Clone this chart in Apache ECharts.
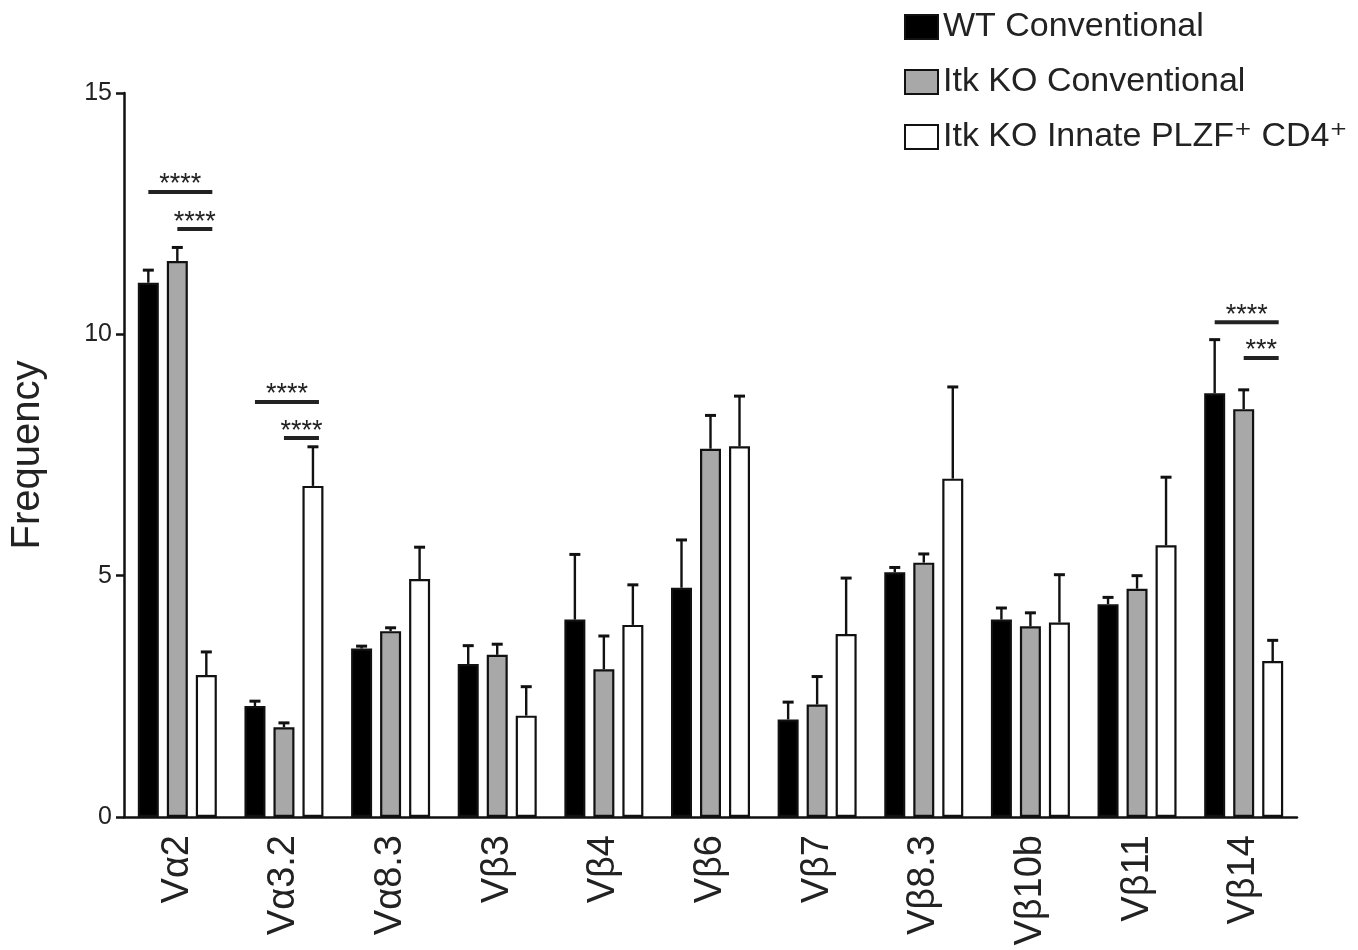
<!DOCTYPE html>
<html>
<head>
<meta charset="utf-8">
<style>
  html, body { margin: 0; padding: 0; background: #fff; }
  #chart { width: 1358px; height: 950px; }
</style>
<script src="https://cdn.jsdelivr.net/npm/echarts@6/dist/echarts.min.js"></script>
</head>
<body>
<div id="chart"></div>
<script>
// ---- data ----
var categories = ['V\u03b12', 'V\u03b13.2', 'V\u03b18.3', 'V\u03b23', 'V\u03b24', 'V\u03b26', 'V\u03b27', 'V\u03b28.3', 'V\u03b210b', 'V\u03b211', 'V\u03b214'];
var seriesNames = ['WT Conventional', 'Itk KO Conventional', 'Itk KO Innate PLZF\u207a CD4\u207a'];
var wtMean   = [11.07, 2.30, 3.49, 3.17, 4.09, 4.75, 2.02, 5.07, 4.09, 4.41, 8.78];
var wtErr    = [0.26, 0.10, 0.05, 0.38, 1.35, 0.99, 0.36, 0.10, 0.24, 0.14, 1.11];
var koMean   = [11.52, 1.86, 3.85, 3.36, 3.06, 7.63, 2.33, 5.27, 3.95, 4.73, 8.45];
var koErr    = [0.28, 0.09, 0.07, 0.22, 0.69, 0.69, 0.58, 0.18, 0.28, 0.27, 0.40];
var innMean  = [2.94, 6.86, 4.93, 2.10, 3.98, 7.68, 3.79, 7.01, 4.03, 5.63, 3.23];
var innErr   = [0.48, 0.81, 0.66, 0.60, 0.83, 1.04, 1.16, 1.90, 0.99, 1.41, 0.43];
var yTicks = { min: 0, max: 15, interval: 5 };
// significance brackets: [category index, first bar index, y value, label]
var sigMarks = [
  [0, 0, 12.95, '****'],
  [0, 1, 12.18, '****'],
  [1, 0, 8.60, '****'],
  [1, 1, 7.85, '****'],
  [10, 0, 10.25, '****'],
  [10, 1, 9.51, '***']
];

// ---- styles ----
var FONT = '"Liberation Sans", Arial, "DejaVu Sans", sans-serif';
var BAR_W = 21;
var BAR_GAP = 8;
var STEP = BAR_W + BAR_GAP;
var fills = ['#000000', '#a8a8a8', '#ffffff'];
var means = [wtMean, koMean, innMean];
var errs = [wtErr, koErr, innErr];

var chart = echarts.init(document.getElementById('chart'), null, { renderer: 'canvas' });

var series = [];
for (var k = 0; k < 3; k++) {
  series.push({
    name: seriesNames[k],
    type: 'bar',
    data: means[k],
    barWidth: BAR_W,
    barGap: (BAR_GAP / BAR_W * 100) + '%',
    itemStyle: { color: fills[k], borderColor: '#111', borderWidth: 2.2 },
    emphasis: { disabled: true },
    z: 2
  });
}

// error bars
for (var k2 = 0; k2 < 3; k2++) {
  (function (kk) {
    var d = [];
    for (var i = 0; i < categories.length; i++) d.push([i, means[kk][i], errs[kk][i]]);
    series.push({
      type: 'custom',
      data: d,
      z: 3,
      silent: true,
      renderItem: function (params, api) {
        var base = api.coord([api.value(0), api.value(1)]);
        var top = api.coord([api.value(0), api.value(1) + api.value(2)]);
        var x = base[0] + (kk - 1) * STEP;
        return {
          type: 'group',
          children: [
            { type: 'line', shape: { x1: x, y1: base[1], x2: x, y2: top[1] }, style: { stroke: '#111', lineWidth: 2.4 } },
            { type: 'line', shape: { x1: x - 5.5, y1: top[1], x2: x + 5.5, y2: top[1] }, style: { stroke: '#111', lineWidth: 3 } }
          ]
        };
      }
    });
  })(k2);
}

// significance marks
series.push({
  type: 'custom',
  data: sigMarks,
  z: 4,
  silent: true,
  renderItem: function (params, api) {
    var p = api.coord([api.value(0), api.value(2)]);
    var from = api.value(1);
    var x1 = p[0] + (from - 1) * STEP;
    var x2 = p[0] + STEP + 6;
    var label = sigMarks[params.dataIndex][3];
    return {
      type: 'group',
      children: [
        { type: 'line', shape: { x1: x1, y1: p[1], x2: x2, y2: p[1] }, style: { stroke: '#222', lineWidth: 4 } },
        { type: 'text', style: { text: label, x: (x1 + x2) / 2, y: p[1] - 7, align: 'center', verticalAlign: 'middle', font: '27px ' + FONT, fill: '#222' } }
      ]
    };
  }
});

chart.setOption({
  animation: false,
  backgroundColor: '#fff',
  grid: { left: 123, right: 61, top: 93, bottom: 133, containLabel: false },
  legend: {
    data: seriesNames,
    orient: 'vertical',
    left: 899,
    top: 4,
    itemWidth: 33,
    itemHeight: 24,
    itemGap: 19,
    selectedMode: false,
    icon: 'rect',
    textStyle: { fontFamily: FONT, fontSize: 34, color: '#222', padding: [0, 0, 0, 0], lineHeight: 36 }
  },
  xAxis: {
    type: 'category',
    data: categories,
    axisLine: { lineStyle: { color: '#111', width: 2.5 } },
    axisTick: { alignWithLabel: true, length: 8, lineStyle: { color: '#111', width: 2.5 } },
    axisLabel: { rotate: 90, margin: 18, fontFamily: FONT, fontSize: 38, color: '#222' },
    splitLine: { show: false }
  },
  yAxis: {
    type: 'value',
    min: yTicks.min,
    max: yTicks.max,
    interval: yTicks.interval,
    name: 'Frequency',
    nameLocation: 'middle',
    nameGap: 76,
    nameTextStyle: { fontFamily: FONT, fontSize: 40, color: '#222' },
    axisLine: { show: true, lineStyle: { color: '#111', width: 2.5 } },
    axisTick: { show: true, length: 8, lineStyle: { color: '#111', width: 2.5 } },
    axisLabel: { margin: 12, fontFamily: FONT, fontSize: 25, color: '#222' },
    splitLine: { show: false }
  },
  series: series
});
</script>
</body>
</html>
